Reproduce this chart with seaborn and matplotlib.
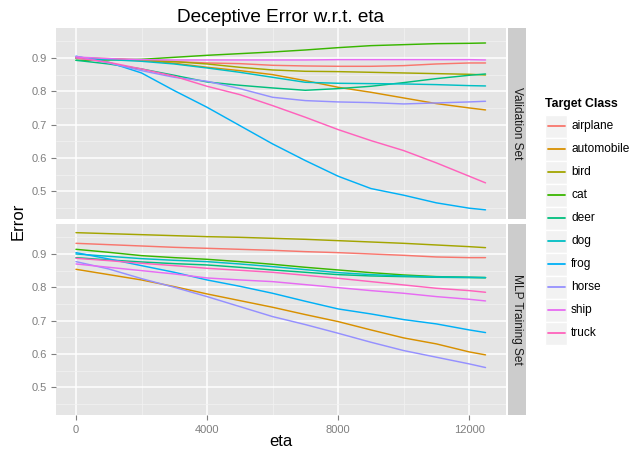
import pandas as pd
import matplotlib
matplotlib.use("Agg")
import matplotlib.pyplot as plt
from matplotlib.patches import Rectangle
import seaborn as sns

# eta sample points
eta = [0, 1000, 2000, 3000, 4000, 5000, 6000, 7000, 8000, 9000, 10000, 11000, 12000, 12500]

classes = ["airplane", "automobile", "bird", "cat", "deer", "dog", "frog", "horse", "ship", "truck"]
colors = ["#F8766D", "#D89000", "#A3A500", "#39B600", "#00BF7D",
          "#00BFC4", "#00B0F6", "#9590FF", "#E76BF3", "#FF62BC"]
panels = ["Validation Set", "MLP Training Set"]

# Validation set error
val_airplane = [0.900, 0.897, 0.893, 0.889, 0.885, 0.883, 0.878, 0.876, 0.875, 0.875, 0.877, 0.882, 0.885, 0.885]
val_automobile = [0.900, 0.898, 0.894, 0.884, 0.872, 0.862, 0.850, 0.832, 0.812, 0.797, 0.780, 0.763, 0.750, 0.744]
val_bird = [0.900, 0.897, 0.893, 0.889, 0.882, 0.872, 0.864, 0.860, 0.859, 0.857, 0.855, 0.853, 0.851, 0.849]
val_cat = [0.893, 0.894, 0.896, 0.902, 0.908, 0.913, 0.918, 0.924, 0.931, 0.937, 0.940, 0.943, 0.944, 0.945]
val_deer = [0.893, 0.882, 0.867, 0.848, 0.828, 0.818, 0.810, 0.803, 0.808, 0.815, 0.826, 0.838, 0.848, 0.852]
val_dog = [0.900, 0.895, 0.890, 0.882, 0.870, 0.857, 0.842, 0.827, 0.824, 0.823, 0.822, 0.820, 0.817, 0.816]
val_frog = [0.905, 0.887, 0.855, 0.802, 0.752, 0.697, 0.642, 0.592, 0.545, 0.508, 0.488, 0.465, 0.449, 0.444]
val_horse = [0.905, 0.885, 0.862, 0.842, 0.830, 0.808, 0.782, 0.772, 0.768, 0.766, 0.762, 0.765, 0.768, 0.770]
val_ship = [0.903, 0.898, 0.895, 0.894, 0.894, 0.894, 0.894, 0.894, 0.895, 0.895, 0.895, 0.895, 0.895, 0.894]
val_truck = [0.900, 0.887, 0.867, 0.845, 0.815, 0.790, 0.757, 0.722, 0.685, 0.652, 0.622, 0.585, 0.545, 0.525]

# MLP training set error
trn_airplane = [0.932, 0.928, 0.924, 0.920, 0.917, 0.914, 0.911, 0.907, 0.904, 0.900, 0.896, 0.891, 0.889, 0.889]
trn_automobile = [0.854, 0.838, 0.822, 0.802, 0.780, 0.760, 0.740, 0.718, 0.697, 0.672, 0.648, 0.630, 0.606, 0.597]
trn_bird = [0.964, 0.961, 0.958, 0.955, 0.952, 0.950, 0.947, 0.944, 0.940, 0.936, 0.932, 0.927, 0.922, 0.919]
trn_cat = [0.914, 0.905, 0.895, 0.889, 0.884, 0.877, 0.869, 0.860, 0.852, 0.844, 0.837, 0.832, 0.830, 0.829]
trn_deer = [0.889, 0.882, 0.876, 0.871, 0.867, 0.860, 0.852, 0.845, 0.838, 0.834, 0.832, 0.830, 0.829, 0.829]
trn_dog = [0.900, 0.893, 0.886, 0.881, 0.877, 0.870, 0.862, 0.853, 0.844, 0.838, 0.834, 0.831, 0.830, 0.829]
trn_frog = [0.904, 0.885, 0.865, 0.845, 0.822, 0.803, 0.782, 0.758, 0.735, 0.720, 0.703, 0.690, 0.672, 0.664]
trn_horse = [0.877, 0.855, 0.826, 0.800, 0.772, 0.742, 0.712, 0.688, 0.662, 0.635, 0.610, 0.590, 0.570, 0.559]
trn_ship = [0.870, 0.860, 0.850, 0.840, 0.828, 0.822, 0.817, 0.808, 0.799, 0.790, 0.782, 0.772, 0.764, 0.759]
trn_truck = [0.887, 0.880, 0.872, 0.865, 0.857, 0.851, 0.845, 0.836, 0.827, 0.817, 0.807, 0.797, 0.790, 0.785]

val_series = [val_airplane, val_automobile, val_bird, val_cat, val_deer,
              val_dog, val_frog, val_horse, val_ship, val_truck]
trn_series = [trn_airplane, trn_automobile, trn_bird, trn_cat, trn_deer,
              trn_dog, trn_frog, trn_horse, trn_ship, trn_truck]

# long format table
rows = []
for panel, series in zip(panels, [val_series, trn_series]):
    for cls, vals in zip(classes, series):
        for e, v in zip(eta, vals):
            rows.append({"panel": panel, "Target Class": cls, "eta": e, "Error": v})
df = pd.DataFrame(rows)
palette = dict(zip(classes, colors))

sns.set_style("white")
plt.rcParams["font.family"] = ["Liberation Sans", "DejaVu Sans"]

W, H = 634, 451
fig = plt.figure(figsize=(W / 100, H / 100), dpi=100)

panel_left, panel_right = 55.5, 506
panel_tops = [28, 224]
panel_h = 190.5
grey_txt = "#7F7F7F"

axes = []
for i, panel in enumerate(panels):
    top = panel_tops[i]
    ax = fig.add_axes([panel_left / W, (H - top - panel_h) / H,
                       (panel_right - panel_left) / W, panel_h / H])
    ax.set_facecolor("#E5E5E5")
    ax.set_axisbelow(True)
    sns.lineplot(data=df[df["panel"] == panel], x="eta", y="Error",
                 hue="Target Class", palette=palette, hue_order=classes,
                 linewidth=1.05, legend=False, ax=ax)
    ax.set_xlim(-625, 13125)
    ax.set_ylim(0.418, 0.990)
    ax.set_xticks([0, 4000, 8000, 12000])
    ax.set_xticks([2000, 6000, 10000], minor=True)
    ax.set_yticks([0.5, 0.6, 0.7, 0.8, 0.9])
    ax.set_yticks([0.45, 0.55, 0.65, 0.75, 0.85, 0.95], minor=True)
    ax.grid(which="major", color="white", linewidth=1.1)
    ax.grid(which="minor", color="#F2F2F2", linewidth=0.5)
    for s in ax.spines.values():
        s.set_visible(False)
    ax.tick_params(which="major", length=3.5, width=0.8, color=grey_txt,
                   labelcolor=grey_txt, labelsize=8, pad=2.5, left=True, bottom=True)
    ax.tick_params(axis="x", pad=4)
    ax.tick_params(which="minor", length=0)
    ax.set_ylabel("")
    ax.set_xlabel("")
    if i == 0:
        ax.tick_params(axis="x", bottom=False, labelbottom=False)
    axes.append(ax)

# overlay in pixel coords for strips, legend and labels
ov = fig.add_axes([0, 0, 1, 1])
ov.set_xlim(0, W)
ov.set_ylim(H, 0)
ov.axis("off")

for i, panel in enumerate(panels):
    top = panel_tops[i]
    ov.add_patch(Rectangle((507.5, top), 18.5, panel_h, facecolor="#CCCCCC", edgecolor="none"))
    ov.text(516.8, top + panel_h / 2, panel, rotation=270, ha="center", va="center",
            fontsize=8.6, color="#1A1A1A")

ov.text((panel_left + panel_right) / 2, 17.5, "Deceptive Error w.r.t. eta",
        ha="center", va="center", fontsize=13.7, color="black")
ov.text((panel_left + panel_right) / 2, 441, "eta", ha="center", va="center",
        fontsize=12, color="black")
ov.text(18, 221, "Error", rotation=90, ha="center", va="center",
        fontsize=12, color="black")

# legend
ov.text(545, 104, "Target Class", ha="left", va="center", fontsize=8.8,
        fontweight="bold", color="black")
for j, (cls, col) in enumerate(zip(classes, colors)):
    yc = 126 + 23.0 * j
    ov.add_patch(Rectangle((545, yc - 11.5), 22, 23, facecolor="#F2F2F2",
                           edgecolor="white", linewidth=1.0))
    ov.plot([547.5, 564.5], [yc, yc], color=col, linewidth=1.3)
    ov.text(571, yc, cls, ha="left", va="center", fontsize=8.6, color="black")

fig.savefig("out.png", dpi=100)
